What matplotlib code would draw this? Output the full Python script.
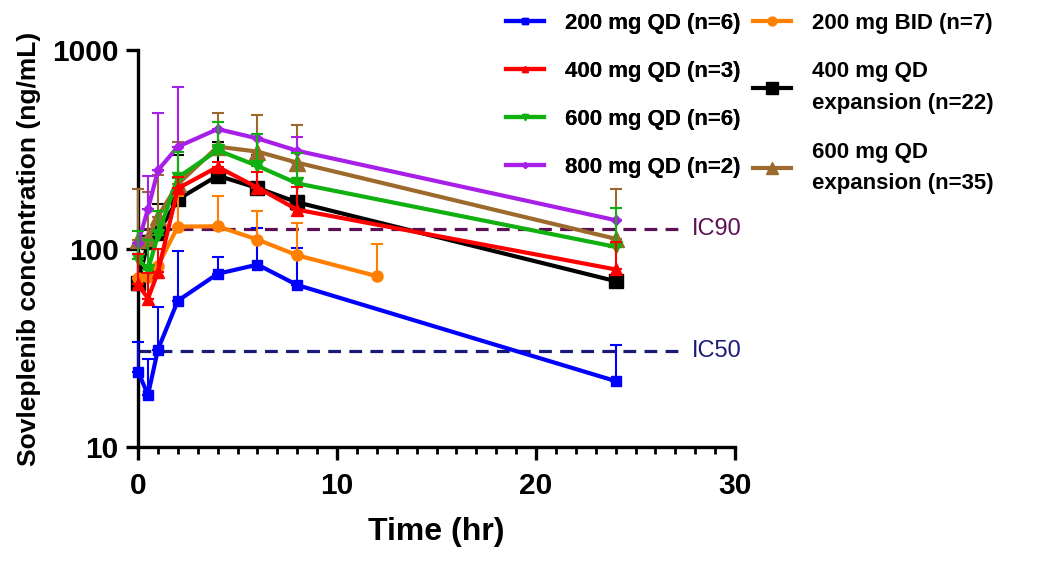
import numpy as np
import matplotlib
matplotlib.use("Agg")
import matplotlib.pyplot as plt
from matplotlib.ticker import FixedLocator, MultipleLocator

plt.rcParams['font.family'] = ['Liberation Sans', 'DejaVu Sans']

# sampling times (hr)
t_qd = [0, 0.5, 1, 2, 4, 6, 8, 24]
t_bid = [0, 0.5, 1, 2, 4, 6, 8, 12]

# mean concentration (ng/mL) and top of upper error bar (mean + SD)
qd200 = [24, 18.3, 31, 54.6, 74.6, 83, 65.5, 21.5]
qd200_top = [34, 27.7, 51, 97, 90.6, 127, 100.7, 32.7]

bid200 = [71, 72, 82, 129, 129.5, 111, 92.5, 72.6]
bid200_top = [np.nan, np.nan, np.nan, 184, 184, 154, 134, 106]

qd400 = [66, 56, 76, 201, 258, 203, 157, 78.5]
qd400_top = [94, 75, 100, 230, 274, 242, 205, 108]

qd400_exp = [67, 108, 120, 177, 233, 202, 171, 68.5]
qd400_exp_top = [np.nan, np.nan, 168, 297, 345, 296, 248, np.nan]

qd600 = [89, 78, 117, 228, 313, 261, 213, 102]
qd600_top = [123, 110, 155, 306, 435, 376, 304, 161]

qd800 = [107, 158, 248, 326, 400, 359, 311, 139]
qd800_top = [np.nan, 232, 480, 653, np.nan, 380, 363, np.nan]

qd600_exp = [111, 113, 145, 211, 326, 308, 271, 112]
qd600_exp_top = [200, 193, 234, 345, 480, 469, 419, 200]

ic90 = 125
ic50 = 30.5

series = [
    # label, t, mean, top, color, marker, markersize
    ("200 mg QD (n=6)", t_qd, qd200, qd200_top, "#0000ff", "s", 7),
    ("400 mg QD (n=3)", t_qd, qd400, qd400_top, "#ff0000", "^", 8),
    ("600 mg QD (n=6)", t_qd, qd600, qd600_top, "#10b010", "v", 8),
    ("800 mg QD (n=2)", t_qd, qd800, qd800_top, "#a820e8", "D", 5),
    ("200 mg BID (n=7)", t_bid, bid200, bid200_top, "#ff8000", "o", 8),
    ("400 mg QD\nexpansion (n=22)", t_qd, qd400_exp, qd400_exp_top, "#000000", "s", 10),
    ("600 mg QD\nexpansion (n=35)", t_qd, qd600_exp, qd600_exp_top, "#9c6a2c", "^", 11),
]
zorders = [3, 6, 5, 4, 4, 3, 3]

fig = plt.figure(figsize=(10.57, 5.63), dpi=100)
ax = fig.add_axes([0.1306, 0.206, 0.5648, 0.705])

handles = []
for (label, t, mean, top, color, marker, ms), z in zip(series, zorders):
    mean = np.array(mean, dtype=float)
    upper = np.array(top, dtype=float) - mean
    lower = np.zeros_like(upper)
    eb = ax.errorbar(t, mean, yerr=[lower, upper], color=color, marker=marker,
                     markersize=ms, lw=3, elinewidth=1.5, capsize=4,
                     capthick=1.5, zorder=z, clip_on=False)
    handles.append(eb[0])

ax.axhline(ic90, xmin=0, xmax=27.2 / 30, color="#5c0f55", ls=(0, (4, 2.6)),
           lw=2.3, zorder=2)
ax.axhline(ic50, xmin=0, xmax=27.2 / 30, color="#1a1a78", ls=(0, (4, 2.6)),
           lw=2.3, zorder=2)
ax.text(27.85, ic90, "IC90", color="#5c0f55", fontsize=17, va="center")
ax.text(27.85, ic50, "IC50", color="#1a1a78", fontsize=17, va="center")

ax.set_yscale("log")
ax.set_ylim(10, 1000)
ax.set_xlim(0, 30)
ax.yaxis.set_major_locator(FixedLocator([10, 100, 1000]))
ax.yaxis.set_minor_locator(FixedLocator([]))
ax.set_yticklabels(["10", "100", "1000"])
ax.xaxis.set_major_locator(MultipleLocator(10))
ax.xaxis.set_minor_locator(MultipleLocator(1))

for side in ["top", "right"]:
    ax.spines[side].set_visible(False)
for side in ["left", "bottom"]:
    ax.spines[side].set_linewidth(2.4)
ax.tick_params(which="major", length=9, width=2.4, labelsize=21.5)
ax.tick_params(axis="x", which="major", pad=9)
ax.tick_params(axis="y", which="major", pad=5)
ax.tick_params(which="minor", length=5, width=2)
for lab in ax.get_xticklabels() + ax.get_yticklabels():
    lab.set_fontweight("bold")

ax.set_xlabel("Time (hr)", fontsize=23, fontweight="bold", labelpad=12)
ax.set_ylabel("Sovleplenib concentration (ng/mL)", fontsize=19,
              fontweight="bold", labelpad=8)

leg1 = fig.legend(handles[:4], [s[0] for s in series[:4]], loc="upper left",
                  bbox_to_anchor=(0.462, 1.009), frameon=False,
                  prop={"weight": "bold", "size": 16}, handlelength=1.7,
                  handletextpad=0.95, labelspacing=1.22, markerscale=0.6,
                  borderpad=0.3)
fig.add_artist(leg1)
leg2 = fig.legend(handles[4:], [s[0] for s in series[4:]], loc="upper left",
                  bbox_to_anchor=(0.696, 1.009), frameon=False,
                  prop={"weight": "bold", "size": 16}, handlelength=1.7,
                  handletextpad=0.95, labelspacing=1.25, markerscale=0.8,
                  borderpad=0.3)
for txt in leg2.get_texts():
    txt.set_linespacing(1.65)

fig.savefig("out.png", dpi=100)
